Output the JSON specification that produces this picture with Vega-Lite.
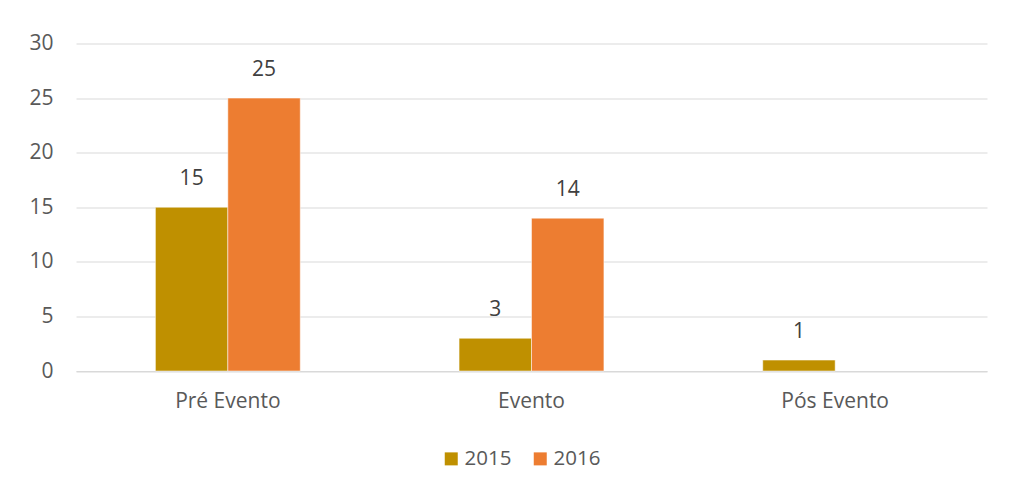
{
  "$schema": "https://vega.github.io/schema/vega-lite/v6.json",
  "width": 911,
  "height": 327.5,
  "autosize": {"type": "none"},
  "padding": {"left": 76, "top": 43.5, "right": 26, "bottom": 128},
  "background": "white",
  "title": {
    "text": "2015-2016.",
    "anchor": "middle",
    "offset": 28,
    "dx": -20,
    "font": "Open Sans",
    "fontSize": 23,
    "fontWeight": "bold",
    "color": "#000000"
  },
  "data": {
    "values": [
      {"fase": "Pré Evento", "ano": "2015", "valor": 15},
      {"fase": "Pré Evento", "ano": "2016", "valor": 25},
      {"fase": "Evento", "ano": "2015", "valor": 3},
      {"fase": "Evento", "ano": "2016", "valor": 14},
      {"fase": "Pós Evento", "ano": "2015", "valor": 1}
    ]
  },
  "encoding": {
    "x": {
      "field": "fase",
      "type": "nominal",
      "sort": ["Pré Evento", "Evento", "Pós Evento"],
      "scale": {"paddingInner": 0.523, "paddingOuter": 0.2615},
      "axis": {
        "title": null,
        "labelAngle": 0,
        "domain": true,
        "domainColor": "#D9D9D9",
        "domainWidth": 1,
        "ticks": false,
        "labelPadding": 19,
        "labelFont": "Open Sans",
        "labelFontSize": 21,
        "labelColor": "#595959"
      }
    },
    "xOffset": {"field": "ano", "type": "nominal", "scale": {"paddingInner": 0, "paddingOuter": 0}},
    "y": {
      "field": "valor",
      "type": "quantitative",
      "scale": {"domain": [0, 30]},
      "axis": {
        "title": null,
        "values": [0, 5, 10, 15, 20, 25, 30],
        "domain": false,
        "ticks": false,
        "labelPadding": 23,
        "labelFont": "Open Sans",
        "labelFontSize": 21,
        "labelColor": "#595959",
        "gridColor": "#D9D9D9",
        "gridWidth": 1
      }
    }
  },
  "layer": [
    {
      "mark": {"type": "bar", "stroke": "white", "strokeWidth": 0.5},
      "encoding": {
        "color": {
          "field": "ano",
          "type": "nominal",
          "scale": {"domain": ["2015", "2016"], "range": ["#BF9000", "#ED7D31"]},
          "legend": {
            "title": null,
            "orient": "none",
            "legendX": 365,
            "legendY": 405,
            "padding": 0,
            "direction": "horizontal",
            "symbolType": "square",
            "symbolSize": 169,
            "symbolStrokeWidth": 0,
            "labelOffset": 3,
            "labelFont": "Open Sans",
            "labelFontSize": 20.5,
            "labelColor": "#595959",
            "columnPadding": 18
          }
        }
      }
    },
    {
      "mark": {"type": "text", "dy": -28, "font": "Open Sans", "fontSize": 21, "color": "#404040"},
      "encoding": {"text": {"field": "valor", "type": "quantitative"}}
    }
  ],
  "config": {"view": {"stroke": null}}
}
